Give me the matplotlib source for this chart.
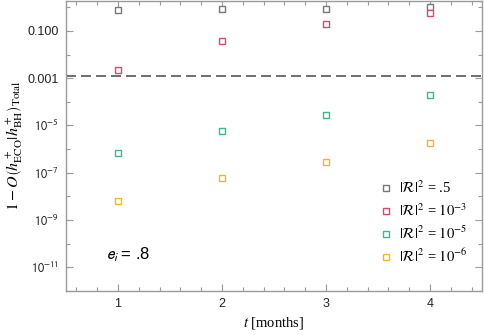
import matplotlib
matplotlib.use("Agg")
import matplotlib.pyplot as plt
from matplotlib.ticker import FixedLocator, FixedFormatter, MultipleLocator, NullFormatter

# ---- data ----
months = [1, 2, 3, 4]
r_half = [0.74, 0.87, 0.87, 1.0]
r_1e3 = [2.3e-3, 0.036, 0.20, 0.59]
r_1e5 = [6.9e-7, 5.6e-6, 2.7e-5, 1.9e-4]
r_1e6 = [6.5e-9, 5.9e-8, 2.8e-7, 1.8e-6]
threshold = 1.2e-3

series_labels = [r"$|\mathcal{R}|^2$ = .5", r"$|\mathcal{R}|^2$ = $10^{-3}$",
                 r"$|\mathcal{R}|^2$ = $10^{-5}$", r"$|\mathcal{R}|^2$ = $10^{-6}$"]
series_colors = ["#777777", "#d9476f", "#3bb98a", "#f7b234"]

ytick_vals = [1e-1, 1e-3, 1e-5, 1e-7, 1e-9, 1e-11]
ytick_labels = ["0.100", "0.001", r"$10^{-5}$", r"$10^{-7}$", r"$10^{-9}$", r"$10^{-11}$"]
yminor_vals = [1e0, 1e-2, 1e-4, 1e-6, 1e-8, 1e-10, 1e-12]
xtick_vals = [1, 2, 3, 4]
xtick_labels = ["1", "2", "3", "4"]

# ---- figure ----
fig = plt.figure(figsize=(4.85, 3.35), dpi=100)
ax = fig.add_axes([0.136, 0.132, 0.858, 0.866])

for ys, lab, col in zip([r_half, r_1e3, r_1e5, r_1e6], series_labels, series_colors):
    ax.plot(months, ys, linestyle="none", marker="s", markersize=5,
            markerfacecolor="white", markeredgecolor=col, markeredgewidth=1.0,
            label=lab)

ax.axhline(threshold, color="#555555", linestyle=(0, (6, 3)), linewidth=1.2, zorder=0)

ax.set_yscale("log")
ax.set_xlim(0.5, 4.5)
ax.set_ylim(1e-12, 1.9)

ax.yaxis.set_major_locator(FixedLocator(ytick_vals))
ax.yaxis.set_major_formatter(FixedFormatter(ytick_labels))
ax.yaxis.set_minor_locator(FixedLocator(yminor_vals))
ax.yaxis.set_minor_formatter(NullFormatter())
ax.xaxis.set_major_locator(FixedLocator(xtick_vals))
ax.xaxis.set_major_formatter(FixedFormatter(xtick_labels))
ax.xaxis.set_minor_locator(MultipleLocator(0.2))
ax.xaxis.set_minor_formatter(NullFormatter())

spine_col = "#9a9a9a"
for s in ax.spines.values():
    s.set_color(spine_col)
    s.set_linewidth(1.0)

ax.tick_params(which="both", direction="in", top=True, right=True, color=spine_col,
               labelcolor="#222222", labelsize=9, width=0.8)
ax.tick_params(which="major", length=5, pad=5)
ax.tick_params(which="minor", length=3)
for lbl in ax.get_xticklabels() + ax.get_yticklabels():
    lbl.set_fontfamily("Liberation Sans")
    lbl.set_math_fontfamily("stixsans")

ax.set_xlabel(r"$t$ [months]", fontsize=10.5, fontfamily="Liberation Serif",
              math_fontfamily="stix", labelpad=4)
ax.set_ylabel(r"$1 - O\left(h^+_{\mathrm{ECO}}|h^+_{\mathrm{BH}}\right)_{\mathrm{Total}}$",
              fontsize=11.5, math_fontfamily="stix", labelpad=2)

ax.text(0.096, 0.123, r"$e_i$ = .8", transform=ax.transAxes, fontsize=12,
        fontfamily="Liberation Sans", math_fontfamily="stixsans", va="center", ha="left")

leg = ax.legend(loc="center left", bbox_to_anchor=(0.74, 0.235), frameon=False,
                handlelength=0.8, handletextpad=0.5, labelspacing=0.4,
                prop={"size": 10.5, "family": "Liberation Serif"}, borderaxespad=0)
for t in leg.get_texts():
    t.set_math_fontfamily("stix")

fig.savefig("out.png", dpi=100)
